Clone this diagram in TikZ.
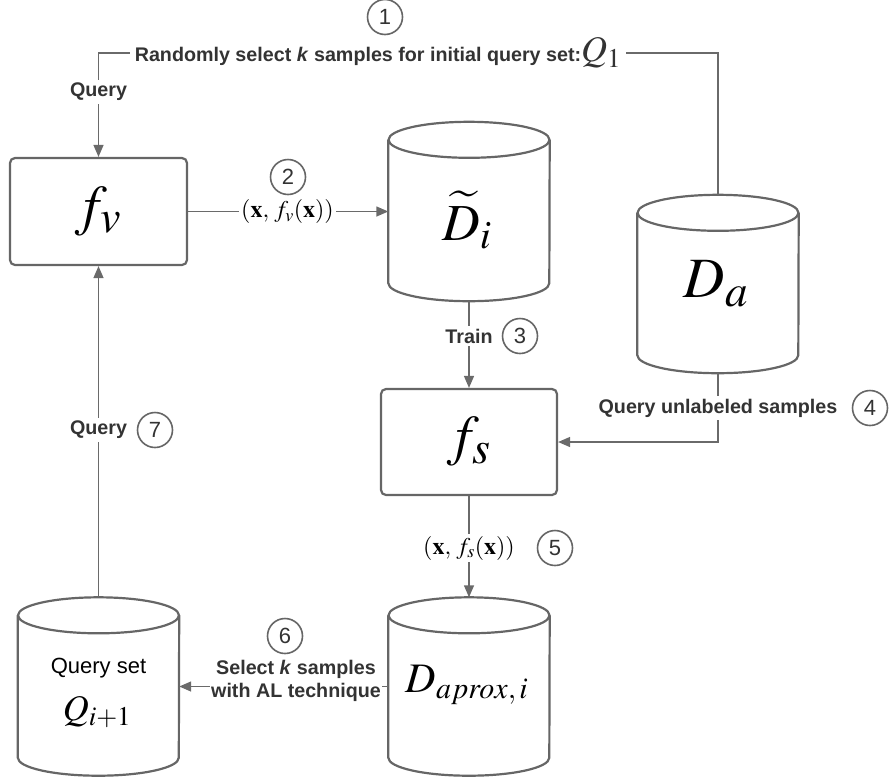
\documentclass[tikz,border=0pt]{standalone}
\usepackage{mathptmx}
\usepackage[no-math]{fontspec}
\setmainfont{Liberation Serif}
\newfontfamily\labfont{Liberation Sans}
\usetikzlibrary{arrows.meta,calc}
\DeclareMathSizes{56}{56}{46}{36}
\DeclareMathSizes{57}{57}{45}{35}
\DeclareMathSizes{52}{52}{40}{30}
\DeclareMathSizes{42}{42}{30}{22}
\DeclareMathSizes{36}{36}{27}{20}
\DeclareMathSizes{34}{34}{26}{19}
\DeclareMathSizes{24}{24}{18}{14}
\definecolor{edgegray}{HTML}{6A6A6A}
\definecolor{shapegray}{HTML}{666666}
\definecolor{labgray}{HTML}{333333}

% cylinder outline around a named placeholder node
\newcommand\drawdb[1]{%
  \draw[dbline] ($(#1.north west)+(0,18)$) -- ($(#1.south west)+(0,-18)$)
    arc[start angle=180,end angle=360,x radius=80.5pt,y radius=18pt]
    -- ($(#1.north east)+(0,18)$);
  \draw[dbline] ($(#1.north)+(0,18)$) ellipse[x radius=80.5pt,y radius=18pt];
}

\begin{document}
\begin{tikzpicture}[x=1pt,y=-1pt,
  box/.style={draw=shapegray,line width=2.2pt,rounded corners=5pt,fill=white,
    minimum width=177pt,minimum height=107pt,inner sep=0pt},
  dbnode/.style={inner sep=0pt,minimum width=161pt,minimum height=178pt},
  dbline/.style={draw=shapegray,line width=2.2pt},
  conn/.style={draw=edgegray,line width=1.4pt,-{Triangle[length=12pt,width=10pt]}},
  lbl/.style={font=\labfont\bfseries\fontsize{19.7}{23}\selectfont,text=labgray,
    fill=white,inner sep=3pt},
  mlbl/.style={font=\fontsize{24}{24}\selectfont,text=black,fill=white,inner sep=2pt},
  num/.style={circle,draw=shapegray,line width=1.6pt,minimum size=35pt,inner sep=0pt,
    font=\labfont\fontsize{22}{22}\selectfont,text=labgray,fill=white},
]
\useasboundingbox (0,0) rectangle (890,780);

% models
\node[box] (fv) at (98.5,211.5) {\fontsize{56}{56}\selectfont$f_v$};
\node[box,minimum width=176pt,minimum height=106pt] (fs) at (469,442) {\fontsize{56}{56}\selectfont$f_s$};

% data stores
\node[dbnode,minimum height=179pt] (Dt) at (469,211.5) {};
\node[dbnode] (Da) at (718,284) {};
\node[dbnode] (Dx) at (469,686.5) {};
\node[dbnode] (Qs) at (98.5,686.5) {};
\drawdb{Dt}
\drawdb{Da}
\drawdb{Dx}
\drawdb{Qs}

\node (DtT) at (467,220) {\fontsize{52}{52}\selectfont$\widetilde{D}_i$};
\node (DaT) at (716,284) {\fontsize{57}{57}\selectfont$D_a$};
\node (DxT) at (467,685) {\fontsize{42}{42}\selectfont$D_{aprox,\,i}$};
\node (QsT) at (98.5,668) {\labfont\fontsize{22}{22}\selectfont Query set};
\node (QsM) at (97,712) {\fontsize{36}{36}\selectfont$Q_{i+1}$};

% connectors
\coordinate (top) at (400,53);
\draw[conn] (Da.north) |- (top) -| (fv.north);
\draw[conn] (fv.east) -- (Dt.west);
\draw[conn] (Dt.south) -- (fs.north);
\draw[conn] (Da.south) |- (fs.east);
\draw[conn] (fs.south) -- (Dx.north);
\draw[conn] (Dx.west) -- (Qs.east);
\draw[conn] (Qs.north) -- (fv.south);

% connector labels
\node[lbl,inner xsep=5pt] (sel) at (378,53) {Randomly select \textit{k} samples for initial query set:{\mdseries\fontsize{36}{36}\selectfont$Q_1$}};
\node[lbl] (q1) at (98.5,92) {Query};
\node[mlbl] (e2) at (287.5,211.5) {$(\mathbf{x},\,f_v(\mathbf{x}))$};
\node[lbl] (tr) at (469,336) {Train};
\node[lbl] (qu) at (718,408) {Query unlabeled samples};
\node[mlbl] (e5) at (469,548) {$(\mathbf{x},\,f_s(\mathbf{x}))$};
\node[lbl,align=center,inner sep=1pt] (sk) at (296,681) {Select \textit{k} samples\\with AL technique};
\node[lbl] (q7) at (98.5,430) {Query};

% step numbers
\node[num] (c1) at (385,17) {1};
\node[num] (c2) at (288,177) {2};
\node[num] (c3) at (520,336) {3};
\node[num] (c4) at (870,408) {4};
\node[num] (c5) at (555,548) {5};
\node[num] (c6) at (285,636) {6};
\node[num] (c7) at (155,430) {7};
\end{tikzpicture}
\end{document}
